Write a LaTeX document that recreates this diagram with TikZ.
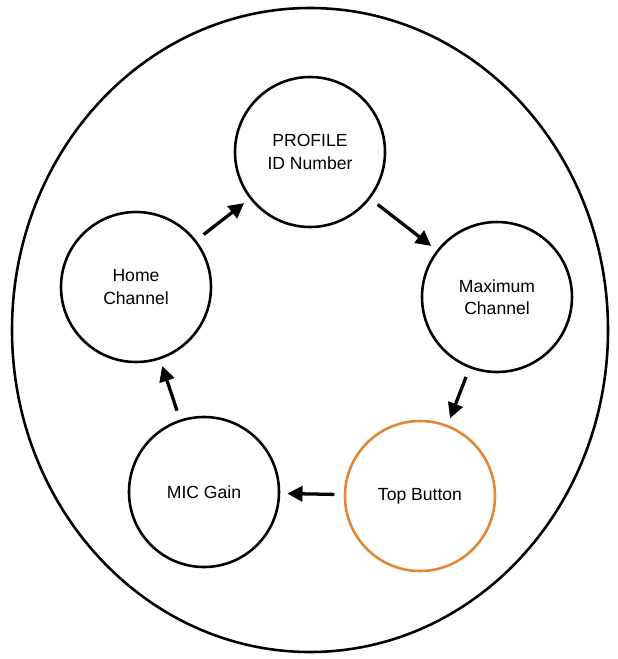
\documentclass[tikz,border=0pt]{standalone}
\usepackage{fontspec}
\setmainfont{Liberation Sans}
\usetikzlibrary{arrows.meta}
\definecolor{btnorange}{RGB}{226,134,56}

\begin{document}
\begin{tikzpicture}[
    x=0.03cm, y=-0.03cm,
    >={Triangle[length=13pt, width=13pt]},
    state/.style={circle, draw=black, line width=2.2pt, fill=white, minimum size=4.5cm, align=center, font=\fontsize{15}{19}\selectfont},
    flow/.style={->, line width=2.8pt, shorten <=8pt, shorten >=6pt}
  ]
    \useasboundingbox (0,0) rectangle (618,659);
    \draw[line width=2.2pt] (310,330) ellipse [x radius=298, y radius=322];
    \node[state] (profile) at (310,152) {PROFILE\\ID Number};
    \node[state] (maxch) at (497,297) {Maximum\\Channel};
    \node[state, draw=btnorange] (topbtn) at (420,496) {Top Button};
    \node[state] (mic) at (204,492) {MIC Gain};
    \node[state] (home) at (136,287) {Home\\Channel};
    \draw[flow] (home) -- (profile);
    \draw[flow] (profile) -- (maxch);
    \draw[flow] (maxch) -- (topbtn);
    \draw[flow] (topbtn) -- (mic);
    \draw[flow] (mic) -- (home);
  \end{tikzpicture}
\end{document}
